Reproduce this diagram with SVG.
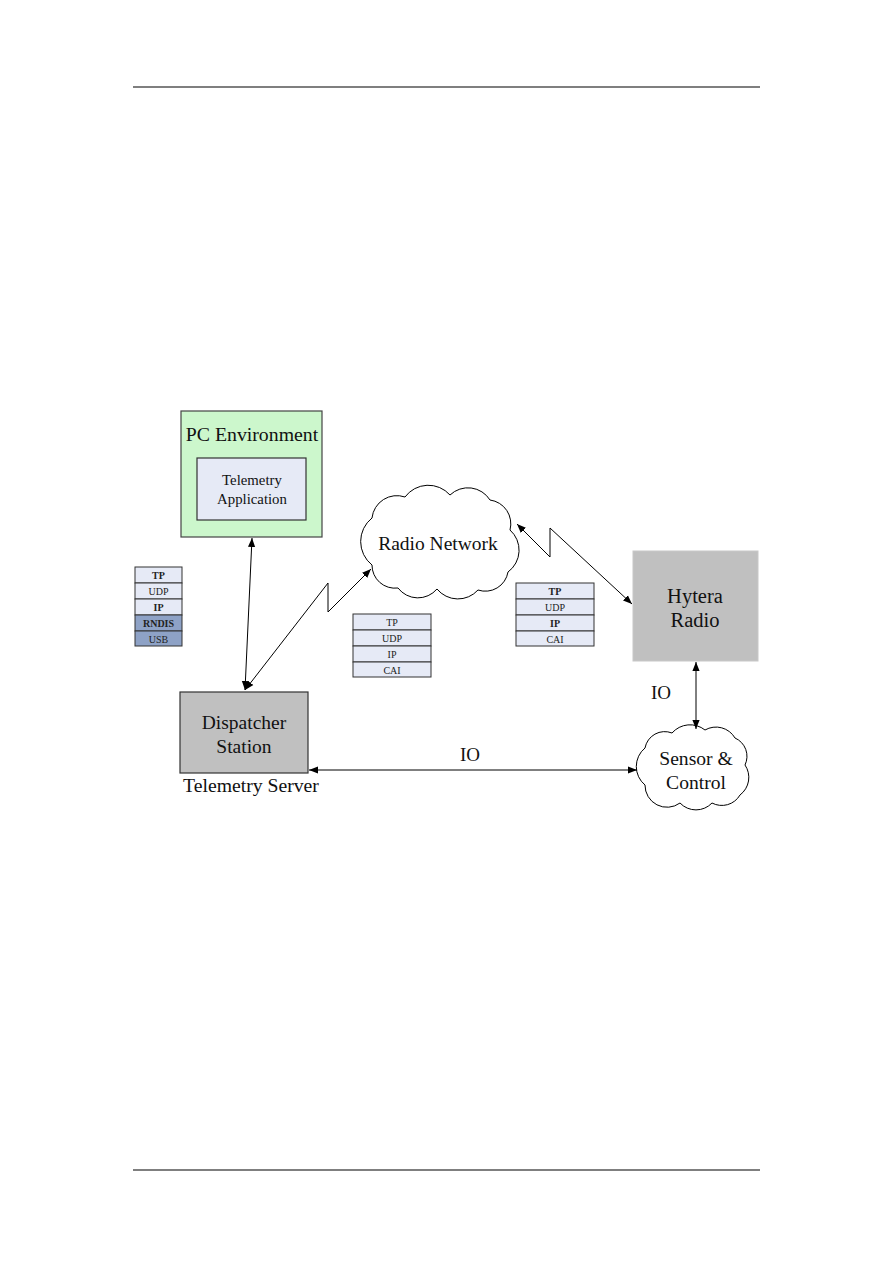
<svg xmlns="http://www.w3.org/2000/svg" width="893" height="1263" viewBox="0 0 893 1263">
<defs>
<marker id="ah" viewBox="0 0 10 10" refX="10" refY="5" markerWidth="9" markerHeight="9" markerUnits="userSpaceOnUse" orient="auto-start-reverse">
<path d="M0,1 L10,5 L0,9 Z" fill="#000"/>
</marker>
<style>
.t{font-family:"Liberation Serif","Times New Roman",serif;fill:#111;text-anchor:middle}
.s{font-family:"Liberation Serif","Times New Roman",serif;fill:#222;text-anchor:middle;font-size:10px}
.row{fill:#e6eaf6;stroke:#333;stroke-width:1}
.dark{fill:#8ea2c6;stroke:#333;stroke-width:1}
.conn{fill:none;stroke:#000;stroke-width:1}
.cloud{fill:#fff;stroke:#000;stroke-width:1}
</style>
</defs>
<rect width="893" height="1263" fill="#fff"/>
<line x1="133" y1="87" x2="760" y2="87" stroke="#000" stroke-width="1.2"/>
<line x1="133" y1="1170" x2="760" y2="1170" stroke="#000" stroke-width="1.2"/>

<g id="pc-environment">
<rect x="181" y="411" width="141" height="126" fill="#ccf7cc" stroke="#444" stroke-width="1.2"/>
<text class="t" x="252" y="441" font-size="19.8">PC Environment</text>
<rect x="197" y="458" width="109" height="62" fill="#e6eaf6" stroke="#333" stroke-width="1.2"/>
<text class="t" x="252" y="485" font-size="14.8" fill="#333">Telemetry</text>
<text class="t" x="252" y="504" font-size="14.8" fill="#333">Application</text>
</g>

<g id="stack-left">
<rect class="row" x="135" y="567" width="47" height="16"/>
<rect class="row" x="135" y="583" width="47" height="16"/>
<rect class="row" x="135" y="599" width="47" height="16"/>
<rect class="dark" x="135" y="615" width="47" height="16"/>
<rect class="dark" x="135" y="631" width="47" height="15"/>
<text class="s" x="158.5" y="579" font-weight="bold">TP</text>
<text class="s" x="158.5" y="595">UDP</text>
<text class="s" x="158.5" y="611" font-weight="bold">IP</text>
<text class="s" x="158.5" y="627" font-weight="bold">RNDIS</text>
<text class="s" x="158.5" y="643">USB</text>
</g>

<g id="radio-network">
<path class="cloud" d="M372,565 A30,30 0 0 1 372,518 A25,25 0 0 1 405,497 A29,29 0 0 1 450,495 A26,26 0 0 1 490,500 A24,24 0 0 1 510,530 A27,27 0 0 1 508,572 A23,23 0 0 1 478,590 A27,27 0 0 1 437,589 A25,25 0 0 1 398,588 A23,23 0 0 1 372,565 Z"/>
<text class="t" x="438" y="550" font-size="19.5">Radio Network</text>
</g>

<g id="stack-middle">
<rect class="row" x="353" y="614" width="78" height="16"/>
<rect class="row" x="353" y="630" width="78" height="16"/>
<rect class="row" x="353" y="646" width="78" height="16"/>
<rect class="row" x="353" y="662" width="78" height="15"/>
<text class="s" x="392" y="626">TP</text>
<text class="s" x="392" y="642">UDP</text>
<text class="s" x="392" y="658">IP</text>
<text class="s" x="392" y="674">CAI</text>
</g>

<g id="stack-right">
<rect class="row" x="516" y="583" width="78" height="16"/>
<rect class="row" x="516" y="599" width="78" height="16"/>
<rect class="row" x="516" y="615" width="78" height="16"/>
<rect class="row" x="516" y="631" width="78" height="15"/>
<text class="s" x="555" y="595" font-weight="bold">TP</text>
<text class="s" x="555" y="611">UDP</text>
<text class="s" x="555" y="627" font-weight="bold">IP</text>
<text class="s" x="555" y="643">CAI</text>
</g>

<g id="hytera-radio">
<rect x="633" y="551" width="125" height="110" fill="#c0c0c0" stroke="#c8c8c8" stroke-width="1"/>
<text class="t" x="695" y="603" font-size="20.5">Hytera</text>
<text class="t" x="695" y="627" font-size="20.5">Radio</text>
</g>

<g id="dispatcher-station">
<rect x="180" y="692" width="128" height="81" fill="#c0c0c0" stroke="#333" stroke-width="1.2"/>
<text class="t" x="244" y="729" font-size="19.5">Dispatcher</text>
<text class="t" x="244" y="753" font-size="19.5">Station</text>
<text class="t" x="251" y="792" font-size="19.7">Telemetry Server</text>
</g>

<g id="sensor-control">
<path class="cloud" d="M645,785 A24,24 0 0 1 645,748 A20,20 0 0 1 672,733 A24,24 0 0 1 705,730 A22,22 0 0 1 735,738 A20,20 0 0 1 745,765 A22,22 0 0 1 740,795 A21,21 0 0 1 712,803 A22,22 0 0 1 680,803 A22,22 0 0 1 645,785 Z"/>
<text class="t" x="696" y="765" font-size="19.6">Sensor &amp;</text>
<text class="t" x="696" y="789" font-size="19.6">Control</text>
</g>

<g id="connectors">
<line class="conn" x1="252" y1="538" x2="245" y2="690" marker-start="url(#ah)" marker-end="url(#ah)"/>
<polyline class="conn" points="245,690 328,583 328,612 371,569" marker-start="url(#ah)" marker-end="url(#ah)"/>
<polyline class="conn" points="517,524 550,557 550,528 632,604" marker-start="url(#ah)" marker-end="url(#ah)"/>
<line class="conn" x1="696" y1="662" x2="696" y2="729" marker-start="url(#ah)" marker-end="url(#ah)"/>
<line class="conn" x1="309" y1="770" x2="637" y2="770" marker-start="url(#ah)" marker-end="url(#ah)"/>
<text class="t" x="661" y="699" font-size="19">IO</text>
<text class="t" x="470" y="761" font-size="19">IO</text>
</g>
</svg>
